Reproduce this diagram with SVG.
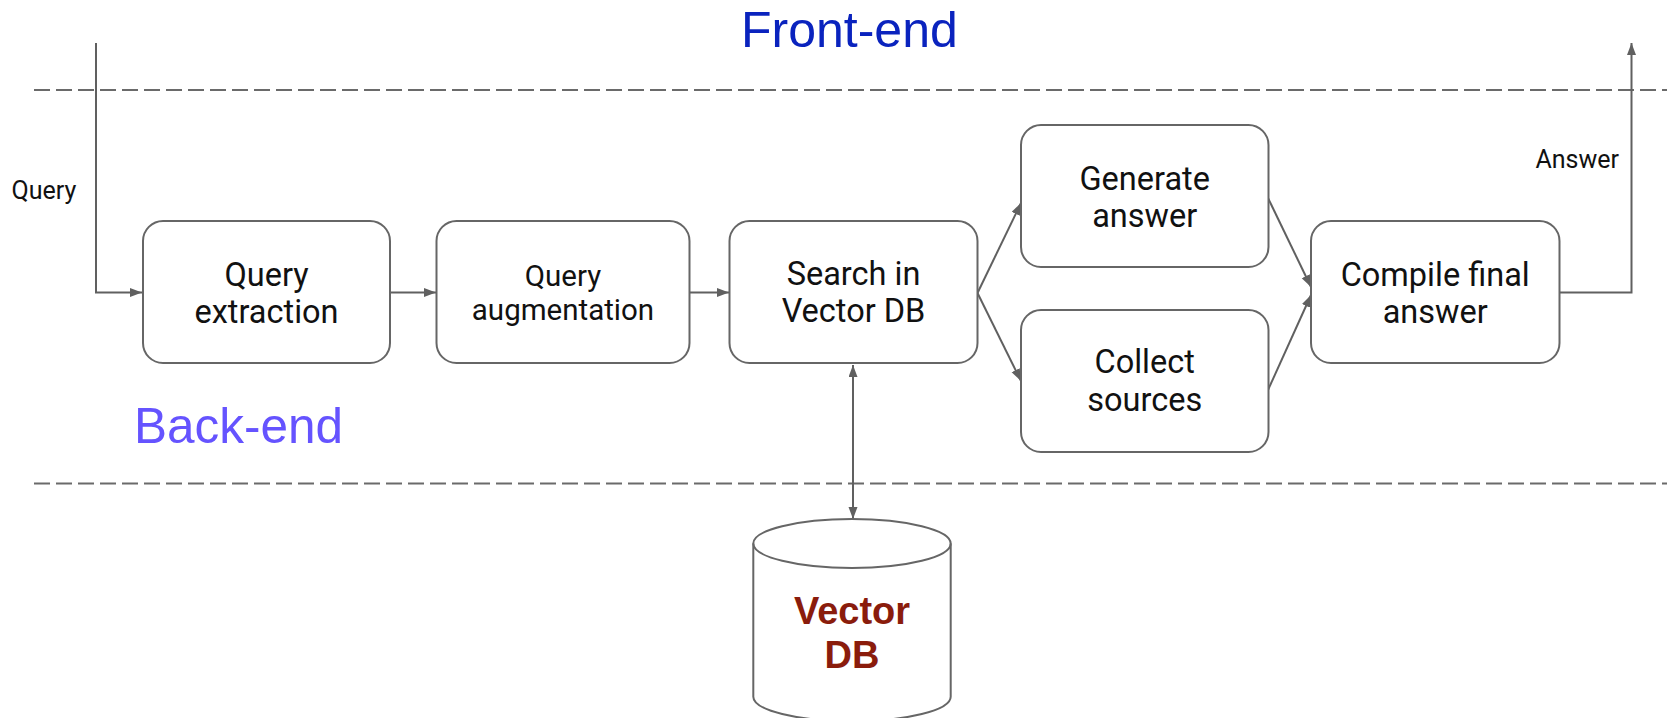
<svg xmlns="http://www.w3.org/2000/svg" width="1667" height="718" viewBox="0 0 1667 718">
<style>
.box{fill:#fff;stroke:#666;stroke-width:2}
.bt{font-family:Roboto,"Liberation Sans",sans-serif;font-size:32.5px;fill:#111;text-anchor:middle}
.lbl{font-family:Roboto,"Liberation Sans",sans-serif;font-size:25px;fill:#111}
.conn{fill:none;stroke:#606060;stroke-width:2}
.dash{fill:none;stroke:#6a6a6a;stroke-width:2;stroke-dasharray:16 6}
</style>
<defs>
<marker id="ah" markerUnits="userSpaceOnUse" markerWidth="13" markerHeight="10" refX="12" refY="4.5" orient="auto-start-reverse">
<path d="M0,0 L12,4.5 L0,9 z" fill="#606060"/>
</marker>
</defs>
<rect width="1667" height="718" fill="#fff"/>
<g id="separators">
<line class="dash" x1="34" y1="90" x2="1667" y2="90"/>
<line class="dash" x1="34" y1="483.5" x2="1667" y2="483.5"/>
</g>
<text id="front-end" x="741" y="46.7" font-family="'Liberation Sans',Arial,sans-serif" font-size="50" fill="#0a23be">Front-end</text>
<text id="back-end" x="134" y="443" font-family="'Liberation Sans',Arial,sans-serif" font-size="49.5" fill="#6553ff">Back-end</text>
<g id="connectors">
<path class="conn" d="M96,43 V292.5 H142" marker-end="url(#ah)"/>
<path class="conn" d="M390,292.5 H436" marker-end="url(#ah)"/>
<path class="conn" d="M690,292.5 H729" marker-end="url(#ah)"/>
<path class="conn" d="M977.5,293 L1021,203" marker-end="url(#ah)"/>
<path class="conn" d="M977.5,293 L1021,381" marker-end="url(#ah)"/>
<path class="conn" d="M1268,198 L1311,287" marker-end="url(#ah)"/>
<path class="conn" d="M1268,390 L1311,295" marker-end="url(#ah)"/>
<path class="conn" d="M1559.5,292.5 H1631.5 V43" marker-end="url(#ah)"/>
<path class="conn" d="M853,365 V519" marker-start="url(#ah)" marker-end="url(#ah)"/>
<text class="lbl" x="11.5" y="199.3">Query</text>
<text class="lbl" x="1535.5" y="168.3">Answer</text>
</g>
<g id="query-extraction">
<rect class="box" x="143" y="221" width="247" height="142" rx="20"/>
<text class="bt" x="266.5" y="285.7">Query</text>
<text class="bt" x="266.5" y="322.7">extraction</text>
</g>
<g id="query-augmentation">
<rect class="box" x="436.5" y="221" width="253" height="142" rx="20"/>
<text class="bt" x="563" y="285.5" style="font-size:29.5px">Query</text>
<text class="bt" x="563" y="320" style="font-size:29.5px">augmentation</text>
</g>
<g id="search-vector-db">
<rect class="box" x="729.5" y="221" width="248" height="142" rx="20"/>
<text class="bt" x="853.5" y="285">Search in</text>
<text class="bt" x="853.5" y="321.7">Vector DB</text>
</g>
<g id="generate-answer">
<rect class="box" x="1021" y="125" width="247.5" height="142" rx="20"/>
<text class="bt" x="1144.7" y="189.5">Generate</text>
<text class="bt" x="1144.7" y="226.5">answer</text>
</g>
<g id="collect-sources">
<rect class="box" x="1021" y="310" width="247.5" height="142" rx="20"/>
<text class="bt" x="1144.7" y="373.3">Collect</text>
<text class="bt" x="1144.7" y="411">sources</text>
</g>
<g id="compile-final-answer">
<rect class="box" x="1311" y="221" width="248.5" height="142" rx="20"/>
<text class="bt" x="1435.2" y="285.7">Compile final</text>
<text class="bt" x="1435.2" y="322.7">answer</text>
</g>
<g id="vector-db">
<path class="box" d="M753.3,543.5 A98.7,24.5 0 0 1 950.7,543.5 V696.7 A98.7,24.5 0 0 1 753.3,696.7 Z"/>
<path class="box" style="fill:none" d="M753.3,543.5 A98.7,24.5 0 0 0 950.7,543.5"/>
<text x="852" y="624.3" font-family="'Liberation Sans',Arial,sans-serif" font-weight="bold" font-size="38" fill="#8a1c0c" text-anchor="middle">Vector</text>
<text x="852" y="667.5" font-family="'Liberation Sans',Arial,sans-serif" font-weight="bold" font-size="38" fill="#8a1c0c" text-anchor="middle">DB</text>
</g>
</svg>
